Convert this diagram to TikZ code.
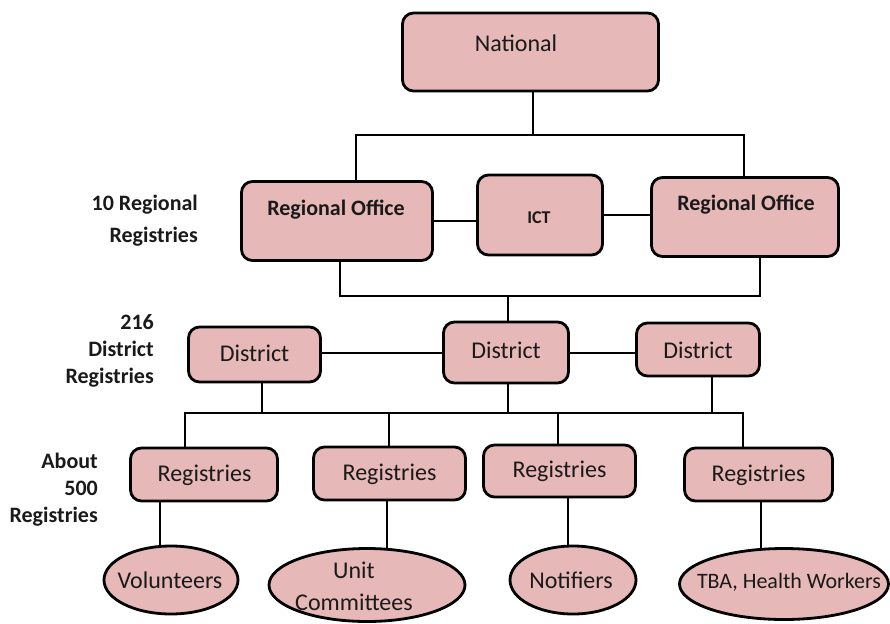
\documentclass[tikz,border=0pt]{standalone}
\usepackage{fontspec}
\setmainfont{Carlito}
\usetikzlibrary{shapes.geometric}
\definecolor{boxpink}{HTML}{E6B8B7}
\definecolor{ink}{HTML}{1A1A1A}
\tikzset{
  box/.style={draw=black, line width=2.8pt, rounded corners=11pt, fill=boxpink, inner sep=0pt},
  oval/.style={ellipse, draw=black, line width=2.8pt, fill=boxpink, inner sep=0pt},
  conn/.style={line width=2.4pt, line cap=rect},
  txt/.style={font=\fontsize{24}{28}\selectfont, inner sep=0pt, text=ink},
  btxt/.style={font=\bfseries\fontsize{22}{26}\selectfont, inner sep=0pt, text=ink},
  side/.style={font=\bfseries\fontsize{22}{27}\selectfont, align=right, inner sep=0pt, anchor=east, text=ink},
}
\begin{document}
\begin{tikzpicture}[x=1pt, y=-1pt]
\useasboundingbox (0,0) rectangle (890,623);

% level labels
\node[side, font=\bfseries\fontsize{22}{32}\selectfont] (lab1) at (198,221) {10 Regional\\Registries};
\node[side] (lab2) at (154,351) {216\\District\\Registries};
\node[side] (lab3) at (98,489.5) {About\\500\\Registries};

% national level
\node[box, minimum width=256pt, minimum height=78pt] (nat) at (530.5,52) {};
\node[txt] (natt) at (516,43) {National};

% regional level
\node[box, minimum width=191pt, minimum height=79pt] (rol) at (337,221) {};
\node[btxt] (rolt) at (336,210) {Regional Office};
\node[box, minimum width=125pt, minimum height=80pt] (ict) at (540,215) {};
\node[btxt, font=\bfseries\fontsize{18}{22}\selectfont] (ictt) at (539,218) {ICT};
\node[box, minimum width=187pt, minimum height=79pt] (ror) at (745,217) {};
\node[btxt] (rort) at (746,205) {Regional Office};

% district level
\node[box, minimum width=132pt, minimum height=55pt] (dl) at (254.5,354.5) {};
\node[txt] (dlt) at (254.5,353) {District};
\node[box, minimum width=125pt, minimum height=61pt] (dm) at (506,352.5) {};
\node[txt] (dmt) at (506,350) {District};
\node[box, minimum width=123pt, minimum height=53pt] (dr) at (698,349.5) {};
\node[txt] (drt) at (698,350) {District};

% registries level
\node[box, minimum width=147pt, minimum height=53pt] (r1) at (204,474.5) {};
\node[txt] (r1t) at (204.5,475) {Registries};
\node[box, minimum width=152pt, minimum height=53pt] (r2) at (389.5,473.5) {};
\node[txt] (r2t) at (389.5,474) {Registries};
\node[box, minimum width=152pt, minimum height=52pt] (r3) at (559.5,471) {};
\node[txt] (r3t) at (559.5,471) {Registries};
\node[box, minimum width=148pt, minimum height=53pt] (r4) at (758.5,474.5) {};
\node[txt] (r4t) at (758.5,475) {Registries};

% community level
\node[oval, minimum width=134pt, minimum height=68pt] (e1) at (171,580) {};
\node[txt] (e1t) at (170,580) {Volunteers};
\node[oval, minimum width=196pt, minimum height=73pt] (e2) at (367,585) {};
\node[txt, align=center, font=\fontsize{24}{32}\selectfont] (e2t) at (354,586) {Unit\\Committees};
\node[oval, minimum width=126pt, minimum height=68pt] (e3) at (573,580) {};
\node[txt] (e3t) at (571,580) {Notifiers};
\node[oval, minimum width=209pt, minimum height=71pt] (e4) at (784,584) {};
\node[txt, font=\fontsize{22}{26}\selectfont] (e4t) at (789,582) {TBA, Health Workers};

% junction points
\coordinate (jn) at (533,135);
\coordinate (jl) at (356,135);
\coordinate (jr) at (744,135);
\coordinate (kl) at (340,296);
\coordinate (kr) at (760,296);
\coordinate (km) at (508,296);
\coordinate (m1) at (262,413);
\coordinate (m2) at (508,413);
\coordinate (m3) at (712,413);
\coordinate (ml) at (185,413);
\coordinate (mb) at (389,413);
\coordinate (mc) at (558,413);
\coordinate (mr) at (743,413);
\coordinate (s1) at (160,0);
\coordinate (s2) at (387,0);
\coordinate (s3) at (568,0);
\coordinate (s4) at (761,0);

% national to regional
\draw[conn] (nat.south -| jn) -- (jn);
\draw[conn] (jl) -- (jr);
\draw[conn] (jl) -- (jl |- rol.north);
\draw[conn] (jr) -- (jr |- ror.north);
\draw[conn] (rol.east) -- (ict.west |- rol.east);
\draw[conn] (ict.east) -- (ror.west |- ict.east);

% regional to district
\draw[conn] (kl |- rol.south) -- (kl) -- (kr) -- (kr |- ror.south);
\draw[conn] (km) -- (km |- dm.north);
\draw[conn] (dl.east |- dlt) -- (dm.west |- dlt);
\draw[conn] (dm.east |- dlt) -- (dr.west |- dlt);

% district to registries
\draw[conn] (m1 |- dl.south) -- (m1);
\draw[conn] (m2 |- dm.south) -- (m2);
\draw[conn] (m3 |- dr.south) -- (m3);
\draw[conn] (ml) -- (mr);
\draw[conn] (ml) -- (ml |- r1.north);
\draw[conn] (mb) -- (mb |- r2.north);
\draw[conn] (mc) -- (mc |- r3.north);
\draw[conn] (mr) -- (mr |- r4.north);

% registries to community
\draw[conn] (s1 |- r1.south) -- (s1 |- e1.north);
\draw[conn] (s2 |- r2.south) -- (s2 |- e2.north);
\draw[conn] (s3 |- r3.south) -- (s3 |- e3.north);
\draw[conn] (s4 |- r4.south) -- (s4 |- e4.north);
\end{tikzpicture}
\end{document}
